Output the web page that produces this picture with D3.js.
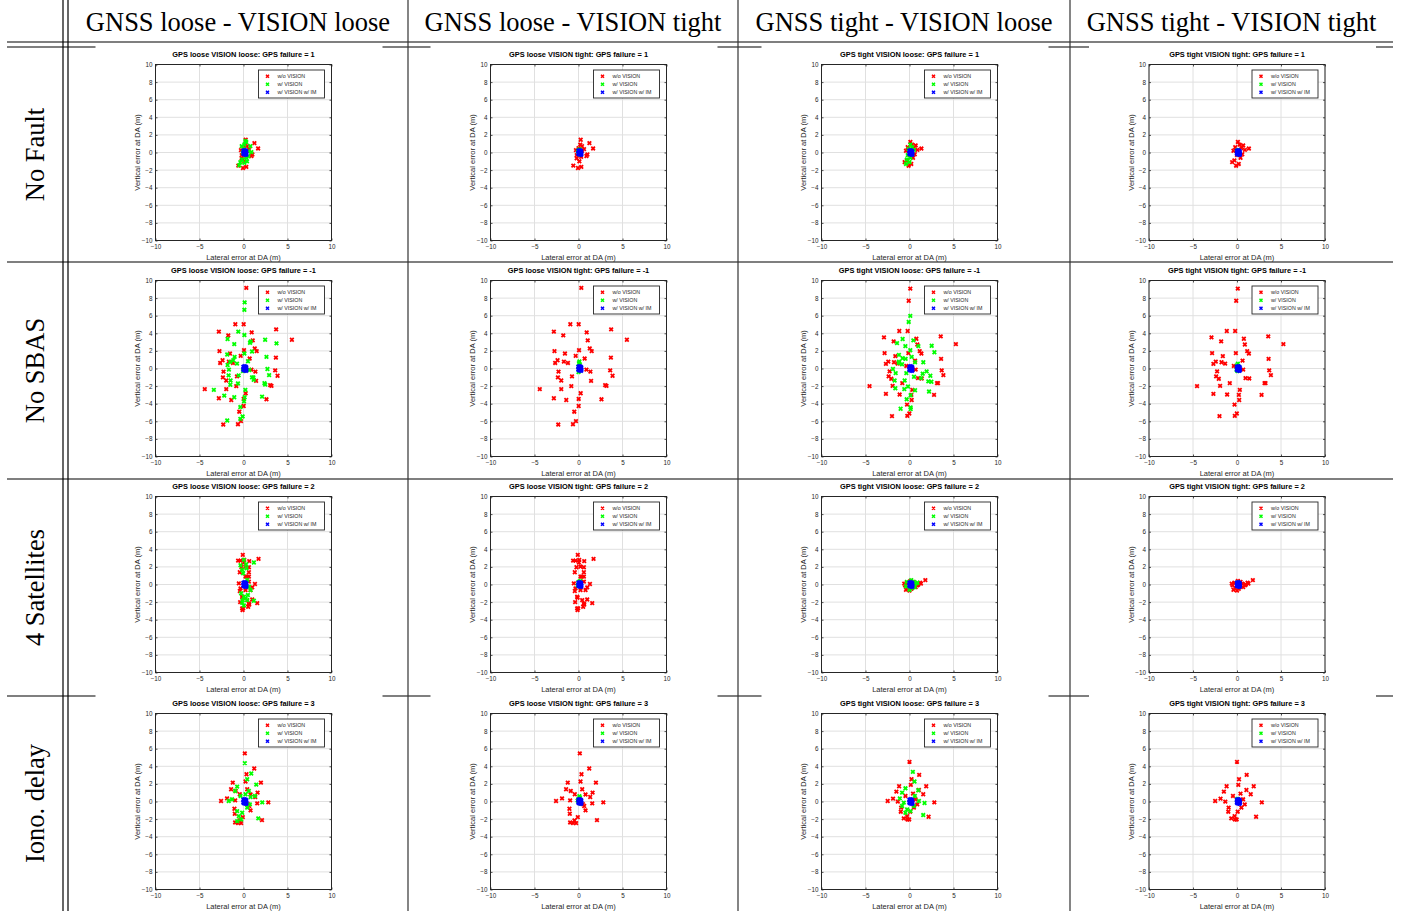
<!DOCTYPE html>
<html><head><meta charset="utf-8">
<script src="https://cdn.jsdelivr.net/npm/d3@7"></script>
<style>body{margin:0;background:#fff}svg{display:block}</style>
</head><body><div id="chart"></div>
<script>
// ---------- DATA ----------
const colHeaders = ["GNSS loose - VISION loose","GNSS loose - VISION tight","GNSS tight - VISION loose","GNSS tight - VISION tight"];
const rowHeaders = ["No Fault","No SBAS","4 Satellites","Iono. delay"];
const panelPrefixes = ["GPS loose VISION loose","GPS loose VISION tight","GPS tight VISION loose","GPS tight VISION tight"];
const failureCodes = [1,-1,2,3];
const seriesNames = ["w/o VISION","w/ VISION","w/ VISION w/ IM"];
const xTicks = [-10,-5,0,5,10];
const yTicks = [-10,-8,-6,-4,-2,0,2,4,6,8,10];

// Row 1: No Fault
const r1RedLoose = [[0.25,1.45],[1.24,1.07],[1.66,0.46],[1.01,-0.23],[-0.59,-1.49],[-0.06,-1.76],[0.32,-1.64],[-0.21,-0.65],[-0.29,0.27],[0.63,0.38],[0.4,0.73],[0.2,0.9],[0.0,0.5],[0.3,-0.5],[0.1,-1.0],[0.4,0.2],[-0.2,-0.3],[0.9,-0.4]];
const r1RedTight = [[0.1,1.2],[0.3,0.9],[-0.2,0.6],[0.5,0.5],[0.9,0.3],[1.35,0.45],[0.0,-0.3],[0.4,-0.6],[-0.3,-0.9],[-0.55,-1.1],[0.2,-1.3],[-0.1,-1.5],[0.6,-0.2],[-0.4,0.2],[0.7,0.8]];
const r1GreenLL = [[0.21,1.3],[0.1,0.92],[-0.2,0.73],[0.78,0.73],[0.9,0.04],[0.55,-0.42],[-0.17,-0.8],[0.1,-1.18],[-0.36,-1.11],[-0.48,-1.45],[0.4,-1.0],[-0.06,-0.04],[0.59,0.15],[0.32,1.18],[0.0,0.4],[0.3,-0.6]];
const r1GreenLT = [[0.05,0.3],[0.1,-0.2],[0.15,0.35],[-0.05,0.1]];
const r1GreenTL = [[0.1,0.9],[0.3,0.6],[-0.1,0.4],[0.2,0.1],[-0.2,-0.3],[0.1,-0.6],[-0.3,-0.8],[0.0,-1.1],[-0.4,-1.3],[0.3,-0.2],[0.5,0.3]];
const r1GreenTT = [[0.05,0.25],[0.1,-0.2],[0.0,0.1]];

// Row 2: No SBAS
const r2RedLoose = [[0.32,9.16],[-2.8,4.19],[-0.93,5.03],[0.02,5.03],[0.93,4.11],[3.71,4.45],[5.5,3.27],[-1.73,3.77],[1.05,3.19],[-2.73,1.97],[0.06,2.08],[1.28,2.28],[1.5,1.97],[3.68,1.24],[-1.54,1.7],[-2.65,0.63],[-2.38,0.94],[-1.66,0.78],[-1.2,0.63],[-0.32,1.43],[0.7,1.13],[-2.27,-0.36],[-0.74,-0.9],[0.9,-0.13],[3.6,-0.21],[3.87,-0.82],[-2.34,-1.01],[-1.96,-1.36],[-0.82,-2.01],[-1.96,-2.35],[-4.4,-2.35],[1.35,-0.36],[1.43,-1.4],[3.03,-1.89],[3.18,-1.97],[-2.8,-3.38],[-1.39,-3.58],[0.02,-3.46],[0.25,-2.81],[2.61,-3.5],[0.02,-4.26],[-0.48,-4.91],[-0.29,-5.98],[-0.63,-6.33],[-2.3,-6.37]];
const r2RedTight = [[0.09,9.08],[-0.09,7.7],[-1.16,4.26],[-0.21,4.26],[-2.9,3.54],[-1.8,3.08],[0.78,3.38],[3.55,3.65],[5.27,2.77],[0.89,2.73],[-2.83,1.74],[-0.13,1.74],[1.16,1.97],[1.35,1.7],[3.59,1.09],[-1.61,1.4],[-2.41,0.78],[-2.68,0.52],[-1.76,0.71],[-1.35,0.55],[-0.36,0.29],[0.63,0.9],[0.7,-0.13],[-2.26,-0.33],[-2.37,-0.9],[3.66,-0.21],[3.85,-0.75],[-2.07,-1.17],[-0.82,-1.66],[1.39,-1.13],[0.97,-1.09],[3.13,-1.66],[3.24,-1.66],[-1.92,-1.97],[-4.54,-2.01],[0.32,-2.43],[-2.68,-2.89],[-1.12,-2.96],[0.21,-3.0],[2.79,-3.0],[0.25,-3.58],[-0.28,-4.11],[-0.02,-5.11],[-0.25,-5.38],[-1.99,-5.41]];
const r2GreenLL = [[0.13,7.51],[0.1,6.67],[-0.59,4.19],[-1.81,3.35],[0.1,3.8],[-1.05,2.77],[2.46,3.27],[3.75,2.85],[0.74,2.92],[0.82,3.08],[0.97,1.93],[0.1,1.7],[-1.85,1.59],[-1.01,1.32],[2.61,1.32],[-1.5,0.75],[-1.16,0.94],[-1.81,0.4],[-0.74,0.55],[0.51,0.82],[-1.66,-0.13],[-0.06,-0.29],[0.67,-0.17],[2.72,-0.06],[2.91,-0.75],[-1.69,-0.78],[-0.55,-0.78],[0.97,-1.01],[1.16,-1.28],[-1.47,-1.36],[-0.63,-1.7],[-1.5,-1.85],[1.12,-1.01],[2.38,-1.66],[2.46,-1.82],[-3.37,-2.43],[0.21,-2.43],[-2.19,-3.08],[-1.05,-3.27],[0.13,-3.27],[0.06,-3.73],[2.11,-3.19],[-0.36,-4.38],[-0.1,-5.45],[-0.36,-5.72],[-1.85,-5.91]];
const r2GreenLT = [[0.1,0.8],[0.05,0.6],[0.15,0.4],[0.0,0.2],[0.1,-0.2],[0.0,-0.4],[0.15,0.0]];
const r2GreenTL = [[0.09,5.98],[-0.09,5.29],[-0.78,3.35],[-1.42,2.89],[-0.47,2.54],[0.44,3.19],[1.01,2.54],[2.52,2.58],[2.83,1.85],[0.09,2.08],[0.25,1.32],[-1.2,1.55],[-0.78,1.17],[-0.44,1.09],[-1.2,0.78],[-1.2,0.63],[-0.85,0.48],[0.63,0.71],[1.57,0.71],[-1.88,-0.06],[-1.57,-0.52],[-0.36,-0.52],[0.51,-0.94],[1.95,-0.33],[2.37,-0.82],[1.5,-0.59],[-1.69,-1.36],[-0.55,-1.36],[1.31,-1.09],[2.14,-1.47],[2.49,-1.51],[-1.61,-2.24],[-0.59,-2.35],[-0.17,-2.05],[0.63,-2.47],[2.22,-2.62],[0.13,-3.04],[-0.32,-3.5],[-1.01,-4.57],[0.13,-4.42],[0.13,-4.61]];
const r2GreenTT = [[0.1,0.55],[0.0,0.35],[0.05,-0.3],[-0.05,-0.15],[0.12,0.2]];

// Row 3: 4 Satellites
const r3RedLoose = [[-0.08,3.37],[-0.61,2.72],[0.65,2.65],[1.71,2.91],[0.08,2.8],[-0.42,1.39],[0.61,1.96],[1.3,0.06],[0.99,-0.32],[-0.42,-0.74],[-0.11,-1.5],[1.56,-2.11],[0.65,-2.27],[-0.04,-2.72],[-0.11,-2.91],[0.38,0.9],[-0.34,2.72],[0.04,2.5],[0.23,2.04],[-0.23,1.96],[0.61,1.39],[0.23,0.9],[0.61,0.9],[-0.34,-0.44],[0.23,-0.63],[0.8,-0.63],[-0.15,-1.39],[0.42,-1.77],[0.99,-1.7],[-0.38,-2.0],[0.61,-2.15],[-0.15,-2.72],[0.53,-2.53],[-0.53,0.13],[0.61,0.32]];
const r3RedTight = [[0.1,0.4],[0.4,0.3],[-0.3,0.2],[0.6,0.1],[1.0,0.0],[1.3,0.1],[1.8,0.5],[-0.5,-0.1],[-0.2,-0.4],[0.2,-0.5],[-0.4,-0.6],[0.7,-0.3],[0.9,-0.1],[0.0,-0.7],[1.2,0.2],[-0.6,0.1]];
const r3GreenLL = [[-0.34,2.19],[0.04,2.8],[1.18,2.5],[-0.15,1.66],[0.34,1.85],[-0.04,1.28],[0.42,0.51],[0.61,-0.25],[-0.27,-1.0],[0.04,-1.39],[0.42,-1.77],[1.18,-1.85],[-0.15,-2.08],[0.04,-2.38],[0.8,-0.63],[0.23,-1.58],[0.3,2.3],[-0.1,-1.8],[0.2,0.2],[0.5,-1.2]];
const r3GreenLT = [[0.0,0.3],[0.1,-0.2],[0.2,0.4],[-0.1,-0.1]];
const r3GreenTL = [[0.2,0.5],[0.5,0.3],[-0.3,0.3],[0.7,0.1],[-0.4,-0.2],[0.3,-0.4],[0.0,-0.6],[0.6,-0.3],[0.9,0.2]];
const r3GreenTT = [[0.05,0.2],[0.1,-0.15]];

// Row 4: Iono. delay
const r4RedLoose = [[0.15,5.47],[1.22,3.75],[0.34,3.1],[0.23,2.27],[-1.22,2.15],[1.98,2.15],[-1.41,1.39],[-0.88,1.2],[1.6,1.01],[0.42,1.39],[-0.42,0.82],[1.33,0.51],[-2.55,0.06],[-1.87,0.36],[-0.95,0.13],[1.56,-0.21],[2.82,-0.1],[0.65,-0.51],[-1.03,-0.82],[-0.99,-1.39],[0.8,-1.01],[-0.08,-1.77],[-0.46,-2.15],[2.1,-2.11],[-0.95,-2.38],[-0.27,-2.46],[-0.61,-2.46],[0.8,0.8],[0.5,-0.3]];
const r4RedTight = [[0.0,4.51],[1.1,3.03],[0.23,2.53],[0.15,1.89],[-1.18,1.73],[1.9,1.73],[-1.49,1.12],[1.07,1.31],[1.56,0.82],[-0.46,0.63],[-2.48,0.06],[-1.87,0.32],[-1.33,-0.02],[0.88,-0.32],[2.82,-0.1],[0.5,-0.7],[-0.95,-0.7],[-0.99,-1.16],[2.17,-1.73],[-0.27,-1.66],[-0.65,-1.92],[-0.23,-2.04],[-0.04,-2.04],[0.08,-1.16],[0.69,0.25],[0.4,0.9]];
const r4GreenLL = [[0.15,4.36],[0.88,3.18],[0.42,2.53],[1.45,1.92],[-0.72,1.69],[-0.95,1.2],[0.61,1.2],[-0.34,0.63],[0.23,0.82],[-1.3,0.25],[-1.68,0.06],[1.3,0.63],[2.13,-0.1],[0.72,-0.32],[0.42,-0.7],[-0.72,-1.09],[-0.15,-1.28],[-0.53,-1.66],[-0.27,-2.04],[-0.72,-2.23],[1.68,-1.92],[0.8,0.51]];
const r4GreenLT = [[0.1,0.6],[0.0,0.3],[0.2,-0.2],[-0.1,0.1],[0.15,0.45]];
const r4GreenTL = [[0.38,3.37],[0.57,2.27],[-0.46,1.5],[0.99,1.28],[-0.84,1.01],[-1.1,0.36],[0.61,0.63],[1.71,-0.17],[1.07,0.06],[-0.84,-0.51],[-0.27,-0.9],[-0.46,-1.28],[1.56,-1.54],[0.11,-1.09],[0.5,-0.51],[-0.65,-0.13]];
const r4GreenTT = [[0.05,0.3],[0.1,-0.1],[0.0,0.15]];

// w/ VISION w/ IM (same tight cluster in every panel)
const blueIM = [[0.0,0.2],[0.1,-0.2],[0.2,0.1],[0.3,-0.1],[0.15,0.25],[0.05,-0.05],[0.25,0.0],[0.1,0.1],[0.3,0.15],[0.0,-0.15],[0.3,-0.25],[0.2,-0.2]];

const redByRow = [[r1RedLoose,r1RedTight],[r2RedLoose,r2RedTight],[r3RedLoose,r3RedTight],[r4RedLoose,r4RedTight]];
const greenByRow = [[r1GreenLL,r1GreenLT,r1GreenTL,r1GreenTT],[r2GreenLL,r2GreenLT,r2GreenTL,r2GreenTT],[r3GreenLL,r3GreenLT,r3GreenTL,r3GreenTT],[r4GreenLL,r4GreenLT,r4GreenTL,r4GreenTT]];

// ---------- LAYOUT ----------
const W = 1401, H = 911;
const colBounds = [68, 408, 738, 1070, 1393];
const rowLines = [262, 479, 696];
const axisTops = [64.5, 280.5, 496.5, 713.5];
const imgTops = [45.5, 264, 481, 694.5];
const AX = 176;
const colors = ["#ff0000", "#00ff00", "#0000ff"];
const axCol = "#262626";

const svg = d3.select("#chart").append("svg").attr("width", W).attr("height", H);
svg.append("rect").attr("width", W).attr("height", H).attr("fill", "#fff");

// table lines
const tl = svg.append("g").attr("stroke", "#000").attr("stroke-width", 1.2);
[42, 47].concat(rowLines).forEach(y => tl.append("line").attr("x1", 7).attr("x2", 1393).attr("y1", y).attr("y2", y));
[63, 68].forEach(x => tl.append("line").attr("x1", x).attr("x2", x).attr("y1", 0).attr("y2", H));
[408, 738, 1070].forEach(x => tl.append("line").attr("x1", x).attr("x2", x).attr("y1", 0).attr("y2", H).attr("stroke", "#333"));

// headers
colHeaders.forEach((t, c) => {
  svg.append("text").attr("x", (colBounds[c] + colBounds[c + 1]) / 2).attr("y", 30.5)
    .attr("text-anchor", "middle").attr("font-family", "Liberation Serif, serif").attr("font-size", 26.5).text(t);
});
rowHeaders.forEach((t, r) => {
  const top = r === 0 ? 47 : rowLines[r - 1];
  const bot = r === 3 ? H : rowLines[r];
  const cy = (top + bot) / 2;
  svg.append("text").attr("transform", `translate(44,${cy}) rotate(-90)`)
    .attr("text-anchor", "middle").attr("font-family", "Liberation Serif, serif").attr("font-size", 26.5).text(t);
});

const marker = "M-1.8,-1.8L1.8,1.8M-1.8,1.8L1.8,-1.8";
const sansF = "Liberation Sans, Arial, sans-serif";

for (let r = 0; r < 4; r++) {
  for (let c = 0; c < 4; c++) {
    const cx = (colBounds[c] + colBounds[c + 1]) / 2;
    const left = cx - 82.5, top = axisTops[r];
    // figure background (white image)
    svg.append("rect").attr("x", left - 60).attr("y", imgTops[r]).attr("width", 287).attr("height", 212).attr("fill", "#fff");
    const g = svg.append("g");
    const x = d3.scaleLinear().domain([-10, 10]).range([left, left + AX]);
    const y = d3.scaleLinear().domain([-10, 10]).range([top + AX, top]);
    // grid
    g.append("g").selectAll("line").data(xTicks).join("line")
      .attr("x1", d => x(d)).attr("x2", d => x(d)).attr("y1", top).attr("y2", top + AX)
      .attr("stroke", "#e0e0e0").attr("stroke-width", 1);
    g.append("g").selectAll("line").data(yTicks).join("line")
      .attr("y1", d => y(d)).attr("y2", d => y(d)).attr("x1", left).attr("x2", left + AX)
      .attr("stroke", "#e0e0e0").attr("stroke-width", 1);
    // axes
    g.append("g").attr("transform", `translate(0,${top + AX})`)
      .call(d3.axisBottom(x).tickValues(xTicks).tickSize(-2).tickPadding(4).tickSizeOuter(0));
    g.append("g").attr("transform", `translate(${left},0)`)
      .call(d3.axisLeft(y).tickValues(yTicks).tickSize(-2).tickPadding(3).tickSizeOuter(0));
    g.append("g").attr("transform", `translate(0,${top})`)
      .call(d3.axisTop(x).tickValues(xTicks).tickSize(-2).tickFormat("").tickSizeOuter(0));
    g.append("g").attr("transform", `translate(${left + AX},0)`)
      .call(d3.axisRight(y).tickValues(yTicks).tickSize(-2).tickFormat("").tickSizeOuter(0));
    g.selectAll(".domain").remove();
    g.selectAll(".tick line").attr("stroke", axCol).attr("stroke-width", 0.8);
    g.selectAll(".tick text").attr("fill", axCol).attr("font-size", 6.3).attr("font-family", sansF);
    g.append("rect").attr("x", left).attr("y", top).attr("width", AX).attr("height", AX)
      .attr("fill", "none").attr("stroke", axCol).attr("stroke-width", 1);
    // labels
    g.append("text").attr("x", left + AX / 2).attr("y", top - 10).attr("dy", "0.35em")
      .attr("text-anchor", "middle").attr("font-family", sansF).attr("font-weight", "bold")
      .attr("font-size", 7.4).text(`${panelPrefixes[c]}: GPS failure = ${failureCodes[r]}`);
    g.append("text").attr("x", left + AX / 2).attr("y", top + AX + 16.5).attr("dy", "0.35em")
      .attr("text-anchor", "middle").attr("font-family", sansF).attr("font-size", 7.5).attr("fill", axCol)
      .text("Lateral error at DA (m)");
    g.append("text").attr("transform", `translate(${left - 18},${top + AX / 2}) rotate(-90)`).attr("dy", "0.35em")
      .attr("text-anchor", "middle").attr("font-family", sansF).attr("font-size", 7.5).attr("fill", axCol)
      .text("Vertical error at DA (m)");
    // data
    const tight = c >= 2 ? 1 : 0;
    const sets = [redByRow[r][tight], greenByRow[r][c], blueIM];
    sets.forEach((pts, i) => {
      g.append("g").selectAll("path").data(pts).join("path")
        .attr("d", marker).attr("transform", d => `translate(${x(d[0])},${y(d[1])})`)
        .attr("fill", "none").attr("stroke", colors[i]).attr("stroke-width", i === 2 ? 2.2 : 1.8);
    });
    // legend
    const lg = g.append("g");
    lg.append("rect").attr("x", left + 103).attr("y", top + 5.5).attr("width", 66).attr("height", 28)
      .attr("fill", "#fff").attr("stroke", axCol).attr("stroke-width", 0.9);
    seriesNames.forEach((n, i) => {
      const yy = top + 11.7 + i * 8;
      lg.append("path").attr("d", "M-1.5,-1.5L1.5,1.5M-1.5,1.5L1.5,-1.5")
        .attr("transform", `translate(${left + 112},${yy})`).attr("stroke", colors[i]).attr("stroke-width", 1.5).attr("fill", "none");
      lg.append("text").attr("x", left + 122).attr("y", yy).attr("dy", "0.35em")
        .attr("font-family", sansF).attr("font-size", 5.3).attr("fill", axCol).text(n);
    });
  }
}
</script></body></html>
